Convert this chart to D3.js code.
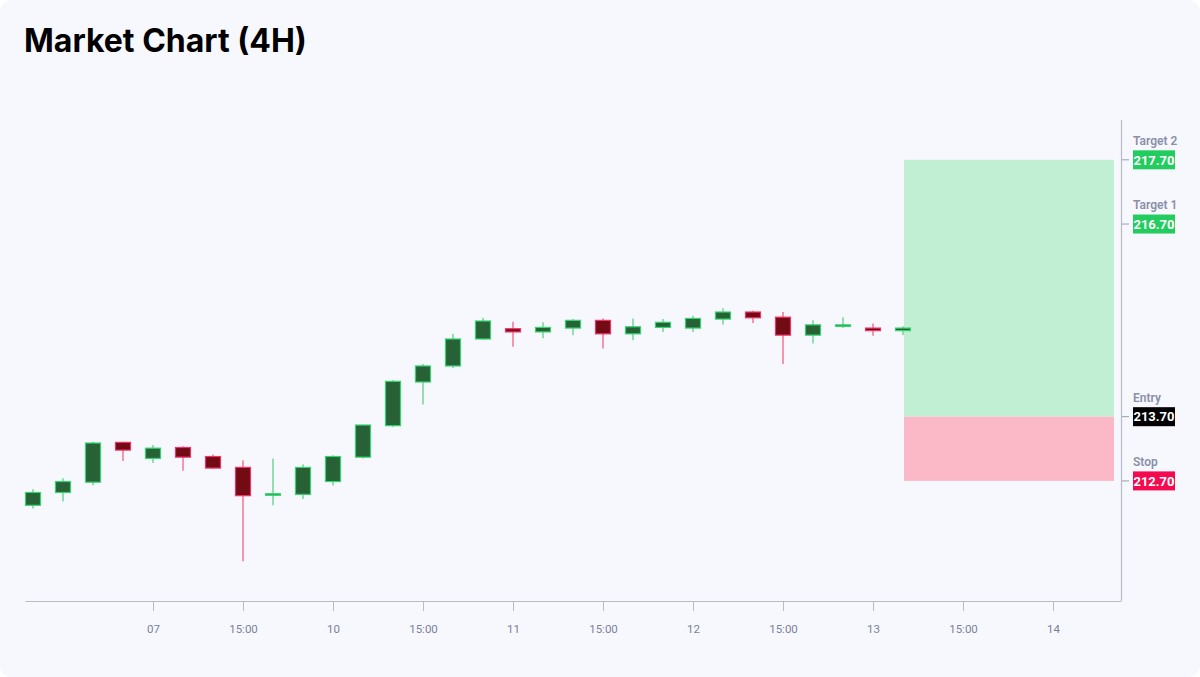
<!DOCTYPE html>
<html>
<head>
<meta charset="utf-8">
<script src="https://cdn.jsdelivr.net/npm/d3@7/dist/d3.min.js"></script>
<style>
  html, body { margin: 0; padding: 0; background: #ffffff; }
  svg { display: block; }
</style>
</head>
<body>
<svg id="chart" width="1200" height="677"></svg>
<script>
// ---- data ----
const opens  = [212.32,212.52,212.68,213.30,213.05,213.22,213.08,212.91,212.48,212.49,212.69,213.07,213.56,214.24,214.49,214.91,215.07,215.02,215.08,215.20,214.99,215.09,215.08,215.22,215.33,215.25,214.97,215.12,215.08,215.04];
const highs  = [212.57,212.74,213.31,213.31,213.26,213.24,213.11,213.02,213.05,212.96,213.10,213.58,214.27,214.52,214.99,215.24,215.18,215.17,215.22,215.23,215.23,215.22,215.27,215.39,215.35,215.33,215.20,215.25,215.15,215.11];
const lows   = [212.27,212.38,212.63,213.01,212.98,212.86,212.89,211.45,212.32,212.42,212.63,213.05,213.54,213.89,214.46,214.90,214.79,214.92,214.97,214.76,214.89,215.02,215.02,215.13,215.16,214.52,214.84,215.08,214.96,214.97];
const closes = [212.52,212.69,213.29,213.18,213.21,213.07,212.90,212.47,212.50,212.91,213.08,213.57,214.25,214.49,214.91,215.19,215.02,215.09,215.20,214.99,215.10,215.17,215.23,215.33,215.24,214.97,215.13,215.13,215.04,215.08];

const tickIndex  = [4,7,10,13,16,19,22,25,28,31,34];
const tickLabels = ["07","15:00","10","15:00","11","15:00","12","15:00","13","15:00","14"];

const levelNames  = ["Target 2","Target 1","Entry","Stop"];
const levelValues = [217.70,216.70,213.70,212.70];
const levelColors = ["#22cc5e","#22cc5e","#000000","#f50a50"];

const zoneStart = 29, zoneEnd = 36;
const entryPrice = 213.70, targetPrice = 217.70, stopPrice = 212.70;

const title = "Market Chart (4H)";

// ---- drawing ----
const svg = d3.select("#chart");
const W = 1200, H = 677;

svg.append("rect").attr("x",0).attr("y",0).attr("width",W).attr("height",H)
  .attr("rx",12).attr("fill","#f7f8fd");

svg.append("text").attr("x",24).attr("y",52)
  .attr("font-family","Inter, Roboto, sans-serif")
  .attr("font-weight",700).attr("font-size",32).attr("fill","#000")
  .text(title);

const plotL = 25, plotR = 1121, plotT = 120, plotB = 601;

const x = d3.scaleLinear().domain([-0.2667, 36.2667]).range([plotL, plotR]);
const y = d3.scaleLinear().domain([210.83, 218.32]).range([plotB, plotT]);

const candles = opens.map((o,i)=>({i, o, h:highs[i], l:lows[i], c:closes[i]}));

// zones
svg.append("rect")
  .attr("x", x(zoneStart)+1).attr("width", x(zoneEnd)-x(zoneStart))
  .attr("y", y(targetPrice)).attr("height", y(entryPrice)-y(targetPrice))
  .attr("fill","#c1efd3");
svg.append("rect")
  .attr("x", x(zoneStart)+1).attr("width", x(zoneEnd)-x(zoneStart))
  .attr("y", y(entryPrice)).attr("height", y(stopPrice)-y(entryPrice))
  .attr("fill","#fbb9c8");

// candles
const bodyW = 15;
const g = svg.append("g");
const cg = g.selectAll("g.candle").data(candles).enter().append("g");
cg.append("line")
  .attr("x1", d=>x(d.i)).attr("x2", d=>x(d.i))
  .attr("y1", d=>y(d.h)).attr("y2", d=>y(d.l))
  .attr("stroke", d=> d.c>=d.o ? "#55cc80" : "#f2557a")
  .attr("stroke-width",1.2);
cg.append("rect")
  .attr("x", d=>x(d.i)-bodyW/2).attr("width", bodyW)
  .attr("y", d=>y(Math.max(d.o,d.c)))
  .attr("height", d=>Math.max(1.5, Math.abs(y(d.o)-y(d.c))))
  .attr("fill", d=> d.c>=d.o ? "#266235" : "#730b15")
  .attr("stroke", d=> d.c>=d.o ? "#33d56e" : "#f2336a")
  .attr("stroke-width",1.2);

// x axis
const xAxis = d3.axisBottom(x)
  .tickValues(tickIndex)
  .tickFormat((d,k)=>tickLabels[k])
  .tickSize(10).tickSizeOuter(0).tickPadding(14);
const xg = svg.append("g").attr("transform",`translate(0,${plotB})`).call(xAxis);
xg.select(".domain").attr("stroke","#b8bbc8").attr("stroke-width",1.2);
xg.selectAll(".tick line").attr("stroke","#b8bbc8");
xg.selectAll(".tick text").attr("fill","#7b809a")
  .attr("font-family","Roboto, 'Noto Sans', sans-serif").attr("font-size",11.5);

// right axis
svg.append("line").attr("x1",plotR+0.5).attr("x2",plotR+0.5)
  .attr("y1",plotT).attr("y2",plotB).attr("stroke","#b8bbc8").attr("stroke-width",1.2);

const lv = svg.append("g");
levelValues.forEach((v,k)=>{
  const yy = y(v);
  lv.append("line").attr("x1",plotR+1).attr("x2",plotR+8)
    .attr("y1",yy).attr("y2",yy).attr("stroke","#9a9eb2").attr("stroke-width",1);
  lv.append("text").attr("x",plotR+12).attr("y",yy-15)
    .attr("font-family","Roboto, 'Noto Sans', sans-serif")
    .attr("font-size",12).attr("font-weight",600).attr("fill","#8a8fa8")
    .text(levelNames[k]);
  lv.append("rect").attr("x",plotR+12).attr("y",yy-9.5)
    .attr("width",42).attr("height",19).attr("fill",levelColors[k]);
  lv.append("text").attr("x",plotR+33).attr("y",yy+4.8)
    .attr("text-anchor","middle")
    .attr("font-family","Roboto, 'Noto Sans', sans-serif")
    .attr("font-size",13).attr("font-weight",700).attr("fill","#ffffff")
    .text(v.toFixed(2));
});
</script>
</body>
</html>
